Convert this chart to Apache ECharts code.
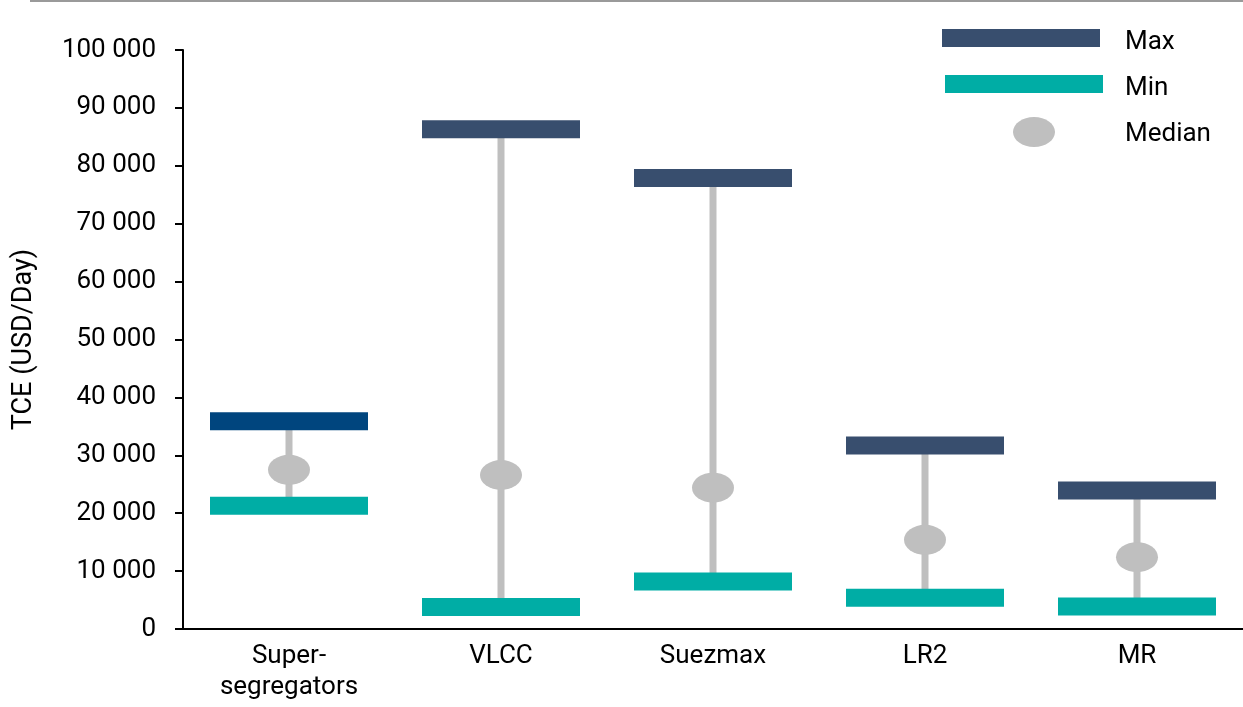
<!DOCTYPE html>
<html>
<head>
<meta charset="utf-8">
<script src="https://cdn.jsdelivr.net/npm/echarts@6/dist/echarts.min.js"></script>
<style>
  html, body { margin: 0; padding: 0; background: #ffffff; }
  #chart { width: 1243px; height: 707px; }
</style>
</head>
<body>
<div id="chart"></div>
<script>
// Vessel segments on the x axis
const categories = ['Super-\nsegregators', 'VLCC', 'Suezmax', 'LR2', 'MR'];
// Time-charter-equivalent earnings, USD/day
const maxValues = [35900, 86300, 77900, 31700, 23900];
const minValues = [21300, 3800, 8200, 5400, 3900];
const medianValues = [27500, 26600, 24400, 15400, 12400];
// Legend entries
const legendNames = ['Max', 'Min', 'Median'];

const FONT = 'Roboto, "Noto Sans", sans-serif';
const MAX_COLOR = '#384e6e';
const MAX_HIGHLIGHT = '#00457e';
const MIN_COLOR = '#00ada5';
const MEDIAN_COLOR = '#bfbfbf';

const chart = echarts.init(document.getElementById('chart'), null, { renderer: 'canvas' });

function spaced(v) {
  return String(v).replace(/\B(?=(\d{3})+(?!\d))/g, ' ');
}

const option = {
  animation: false,
  backgroundColor: '#ffffff',
  textStyle: { fontFamily: FONT },
  grid: { left: 183, right: 0, top: 50, bottom: 78, containLabel: false },
  xAxis: {
    type: 'category',
    data: categories,
    boundaryGap: true,
    axisLine: { show: true, lineStyle: { color: '#000', width: 2 } },
    axisTick: { show: false },
    axisLabel: { color: '#000', fontSize: 26, lineHeight: 31, margin: 12, fontFamily: FONT },
    splitLine: { show: false }
  },
  yAxis: {
    type: 'value',
    min: 0,
    max: 100000,
    interval: 10000,
    name: 'TCE (USD/Day)',
    nameLocation: 'middle',
    nameRotate: 90,
    nameGap: 145,
    nameTextStyle: { color: '#000', fontSize: 27, fontFamily: FONT },
    axisLine: { show: true, lineStyle: { color: '#000', width: 2 } },
    axisTick: { show: true, length: 8, lineStyle: { color: '#000', width: 2 } },
    axisLabel: { color: '#000', fontSize: 26, margin: 27, fontFamily: FONT, formatter: spaced },
    splitLine: { show: false }
  },
  series: [
    {
      // whisker from max to min
      type: 'custom',
      name: 'Range',
      z: 1,
      encode: { x: 0, y: [1, 2] },
      data: categories.map((c, i) => [i, maxValues[i], minValues[i]]),
      renderItem: function (params, api) {
        const top = api.coord([api.value(0), api.value(1)]);
        const bot = api.coord([api.value(0), api.value(2)]);
        return {
          type: 'line',
          shape: { x1: top[0], y1: top[1], x2: bot[0], y2: bot[1] },
          style: { stroke: MEDIAN_COLOR, lineWidth: 7 }
        };
      }
    },
    {
      type: 'scatter',
      name: legendNames[0],
      z: 3,
      symbol: 'rect',
      symbolSize: [158, 18],
      itemStyle: { color: MAX_COLOR, opacity: 1 },
      data: maxValues.map((v, i) => i === 0 ? { value: v, itemStyle: { color: MAX_HIGHLIGHT } } : v)
    },
    {
      type: 'scatter',
      name: legendNames[1],
      z: 3,
      symbol: 'rect',
      symbolSize: [158, 18],
      itemStyle: { color: MIN_COLOR, opacity: 1 },
      data: minValues
    },
    {
      type: 'scatter',
      name: legendNames[2],
      z: 4,
      symbol: 'circle',
      symbolSize: [42, 30],
      itemStyle: { color: MEDIAN_COLOR, opacity: 1 },
      data: medianValues
    }
  ],
  graphic: [
    // rule across the top
    { type: 'rect', left: 30, top: 0, shape: { width: 1213, height: 2 }, style: { fill: '#9a9a9a' }, silent: true },
    // legend
    { type: 'rect', left: 942, top: 29, shape: { width: 158, height: 18 }, style: { fill: MAX_COLOR } },
    { type: 'rect', left: 945, top: 75, shape: { width: 158, height: 18 }, style: { fill: MIN_COLOR } },
    { type: 'ellipse', shape: { cx: 1034, cy: 132, rx: 21, ry: 15 }, style: { fill: MEDIAN_COLOR } },
    { type: 'text', left: 1125, top: 29, style: { text: legendNames[0], font: '26px ' + FONT, fill: '#000' } },
    { type: 'text', left: 1125, top: 75, style: { text: legendNames[1], font: '26px ' + FONT, fill: '#000' } },
    { type: 'text', left: 1125, top: 121, style: { text: legendNames[2], font: '26px ' + FONT, fill: '#000' } }
  ]
};

chart.setOption(option);
</script>
</body>
</html>
